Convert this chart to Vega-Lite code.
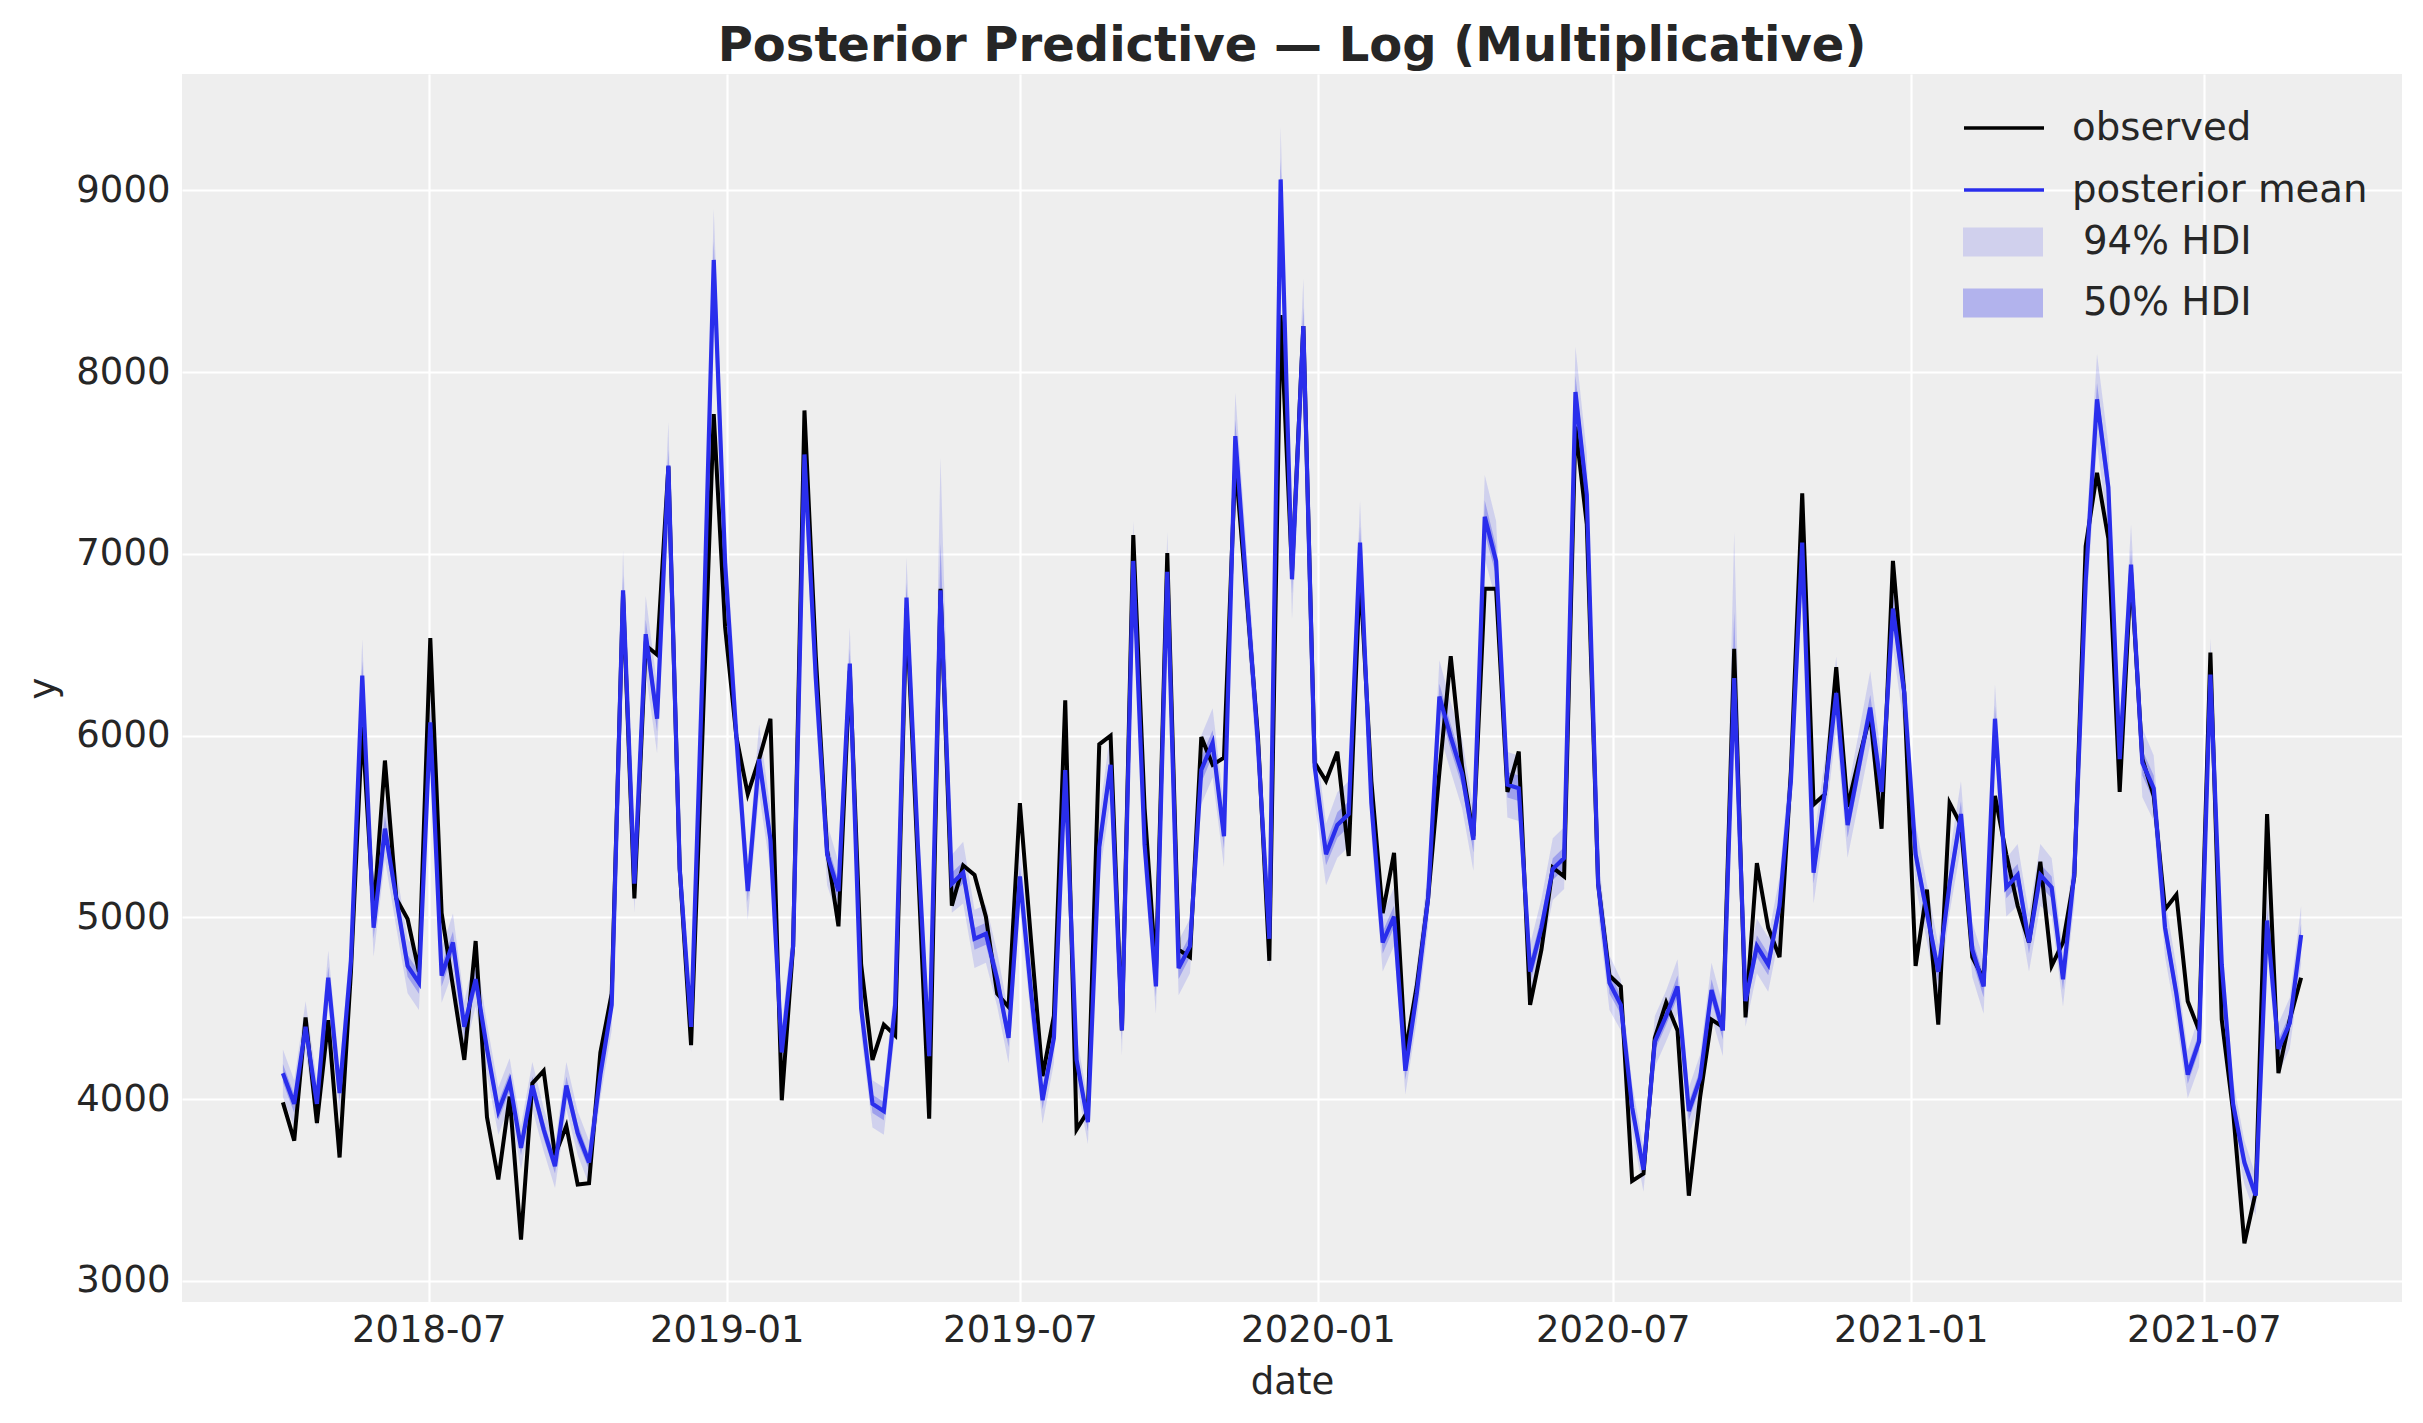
{
  "$schema": "https://vega.github.io/schema/vega-lite/v6.json",
  "autosize": {"type": "none"},
  "padding": {"left": 182, "top": 74, "right": 21, "bottom": 121},
  "width": 2220,
  "height": 1228,
  "background": "white",
  "title": {
    "text": "Posterior Predictive — Log (Multiplicative)",
    "font": "DejaVu Sans",
    "fontSize": 48,
    "fontWeight": "bold",
    "color": "#262626",
    "anchor": "middle",
    "baseline": "alphabetic",
    "offset": -35
  },
  "config": {
    "view": {"fill": "#eeeeee", "stroke": null},
    "axis": {
      "grid": true,
      "gridColor": "#ffffff",
      "gridWidth": 2.2,
      "domain": false,
      "ticks": false,
      "tickSize": 0,
      "labelFont": "DejaVu Sans",
      "labelFontSize": 37,
      "labelColor": "#262626",
      "titleFont": "DejaVu Sans",
      "titleFontSize": 37,
      "titleFontWeight": "normal",
      "titleColor": "#262626"
    },
    "legend": {
      "labelFont": "DejaVu Sans",
      "labelFontSize": 38.7,
      "labelColor": "#262626",
      "labelOffset": 26,
      "labelLimit": 800,
      "rowPadding": -23,
      "symbolSize": 6400
    }
  },
  "data": {
    "values": [
      {"d": "2018-04-02T00:00", "obs": 3982, "mean": 4143, "l94": 4013, "h94": 4273, "l50": 4093, "h50": 4193},
      {"d": "2018-04-09T00:00", "obs": 3772, "mean": 3974, "l94": 3844, "h94": 4104, "l50": 3924, "h50": 4024},
      {"d": "2018-04-16T00:00", "obs": 4450, "mean": 4398, "l94": 4258, "h94": 4538, "l50": 4348, "h50": 4448},
      {"d": "2018-04-23T00:00", "obs": 3869, "mean": 3974, "l94": 3844, "h94": 4104, "l50": 3924, "h50": 4024},
      {"d": "2018-04-30T00:00", "obs": 4434, "mean": 4668, "l94": 4518, "h94": 4818, "l50": 4608, "h50": 4728},
      {"d": "2018-05-07T00:00", "obs": 3679, "mean": 4034, "l94": 3904, "h94": 4164, "l50": 3984, "h50": 4084},
      {"d": "2018-05-14T00:00", "obs": 4700, "mean": 4761, "l94": 4611, "h94": 4911, "l50": 4701, "h50": 4821},
      {"d": "2018-05-21T00:00", "obs": 6050, "mean": 6330, "l94": 6130, "h94": 6530, "l50": 6250, "h50": 6410},
      {"d": "2018-05-28T00:00", "obs": 5024, "mean": 4943, "l94": 4783, "h94": 5103, "l50": 4883, "h50": 5003},
      {"d": "2018-06-04T00:00", "obs": 5863, "mean": 5488, "l94": 5318, "h94": 5658, "l50": 5418, "h50": 5558},
      {"d": "2018-06-11T00:00", "obs": 5104, "mean": 5104, "l94": 4944, "h94": 5264, "l50": 5044, "h50": 5164},
      {"d": "2018-06-18T00:00", "obs": 4991, "mean": 4733, "l94": 4583, "h94": 4883, "l50": 4673, "h50": 4793},
      {"d": "2018-06-25T00:00", "obs": 4700, "mean": 4640, "l94": 4490, "h94": 4790, "l50": 4580, "h50": 4700},
      {"d": "2018-07-02T00:00", "obs": 6537, "mean": 6073, "l94": 5883, "h94": 6263, "l50": 6003, "h50": 6143},
      {"d": "2018-07-09T00:00", "obs": 5024, "mean": 4680, "l94": 4530, "h94": 4830, "l50": 4620, "h50": 4740},
      {"d": "2018-07-16T00:00", "obs": 4620, "mean": 4862, "l94": 4702, "h94": 5022, "l50": 4802, "h50": 4922},
      {"d": "2018-07-23T00:00", "obs": 4216, "mean": 4398, "l94": 4258, "h94": 4538, "l50": 4348, "h50": 4448},
      {"d": "2018-07-30T00:00", "obs": 4870, "mean": 4660, "l94": 4510, "h94": 4810, "l50": 4600, "h50": 4720},
      {"d": "2018-08-06T00:00", "obs": 3901, "mean": 4277, "l94": 4137, "h94": 4417, "l50": 4227, "h50": 4327},
      {"d": "2018-08-13T00:00", "obs": 3558, "mean": 3934, "l94": 3804, "h94": 4064, "l50": 3884, "h50": 3984},
      {"d": "2018-08-20T00:00", "obs": 4014, "mean": 4095, "l94": 3965, "h94": 4225, "l50": 4045, "h50": 4145},
      {"d": "2018-08-27T00:00", "obs": 3227, "mean": 3732, "l94": 3612, "h94": 3852, "l50": 3692, "h50": 3772},
      {"d": "2018-09-03T00:00", "obs": 4087, "mean": 4075, "l94": 3945, "h94": 4205, "l50": 4025, "h50": 4125},
      {"d": "2018-09-10T00:00", "obs": 4156, "mean": 3833, "l94": 3713, "h94": 3953, "l50": 3783, "h50": 3883},
      {"d": "2018-09-17T00:00", "obs": 3691, "mean": 3631, "l94": 3511, "h94": 3751, "l50": 3591, "h50": 3671},
      {"d": "2018-09-24T00:00", "obs": 3853, "mean": 4075, "l94": 3945, "h94": 4205, "l50": 4025, "h50": 4125},
      {"d": "2018-10-01T00:00", "obs": 3530, "mean": 3813, "l94": 3693, "h94": 3933, "l50": 3763, "h50": 3863},
      {"d": "2018-10-08T00:00", "obs": 3538, "mean": 3651, "l94": 3531, "h94": 3771, "l50": 3611, "h50": 3691},
      {"d": "2018-10-15T00:00", "obs": 4256, "mean": 4135, "l94": 4005, "h94": 4265, "l50": 4085, "h50": 4185},
      {"d": "2018-10-22T00:00", "obs": 4580, "mean": 4519, "l94": 4379, "h94": 4659, "l50": 4469, "h50": 4569},
      {"d": "2018-10-29T00:00", "obs": 6780, "mean": 6800, "l94": 6580, "h94": 7020, "l50": 6720, "h50": 6880},
      {"d": "2018-11-05T00:00", "obs": 5104, "mean": 5185, "l94": 5025, "h94": 5345, "l50": 5125, "h50": 5245},
      {"d": "2018-11-12T00:00", "obs": 6497, "mean": 6558, "l94": 6348, "h94": 6768, "l50": 6478, "h50": 6638},
      {"d": "2018-11-19T00:00", "obs": 6445, "mean": 6093, "l94": 5903, "h94": 6283, "l50": 6023, "h50": 6163},
      {"d": "2018-11-26T00:00", "obs": 7480, "mean": 7486, "l94": 7246, "h94": 7726, "l50": 7396, "h50": 7576},
      {"d": "2018-12-03T00:00", "obs": 5266, "mean": 5266, "l94": 5096, "h94": 5436, "l50": 5206, "h50": 5326},
      {"d": "2018-12-10T00:00", "obs": 4297, "mean": 4398, "l94": 4258, "h94": 4538, "l50": 4348, "h50": 4448},
      {"d": "2018-12-17T00:00", "obs": 6000, "mean": 6350, "l94": 6150, "h94": 6550, "l50": 6270, "h50": 6430},
      {"d": "2018-12-24T00:00", "obs": 7769, "mean": 8617, "l94": 8337, "h94": 8897, "l50": 8517, "h50": 8717},
      {"d": "2018-12-31T00:00", "obs": 6598, "mean": 6950, "l94": 6730, "h94": 7170, "l50": 6870, "h50": 7030},
      {"d": "2019-01-07T00:00", "obs": 5992, "mean": 5990, "l94": 5800, "h94": 6180, "l50": 5920, "h50": 6060},
      {"d": "2019-01-14T00:00", "obs": 5678, "mean": 5145, "l94": 4985, "h94": 5305, "l50": 5085, "h50": 5205},
      {"d": "2019-01-21T00:00", "obs": 5871, "mean": 5871, "l94": 5681, "h94": 6061, "l50": 5801, "h50": 5941},
      {"d": "2019-01-28T00:00", "obs": 6093, "mean": 5427, "l94": 5257, "h94": 5597, "l50": 5357, "h50": 5497},
      {"d": "2019-02-04T00:00", "obs": 3994, "mean": 4257, "l94": 4117, "h94": 4397, "l50": 4207, "h50": 4307},
      {"d": "2019-02-11T00:00", "obs": 4842, "mean": 4842, "l94": 4692, "h94": 4992, "l50": 4782, "h50": 4902},
      {"d": "2019-02-18T00:00", "obs": 7789, "mean": 7547, "l94": 7307, "h94": 7787, "l50": 7457, "h50": 7637},
      {"d": "2019-02-25T00:00", "obs": 6437, "mean": 6316, "l94": 6116, "h94": 6516, "l50": 6236, "h50": 6396},
      {"d": "2019-03-04T00:00", "obs": 5367, "mean": 5347, "l94": 5177, "h94": 5517, "l50": 5287, "h50": 5407},
      {"d": "2019-03-11T00:00", "obs": 4951, "mean": 5145, "l94": 4985, "h94": 5305, "l50": 5085, "h50": 5205},
      {"d": "2019-03-18T00:00", "obs": 6356, "mean": 6396, "l94": 6196, "h94": 6596, "l50": 6316, "h50": 6476},
      {"d": "2019-03-25T00:00", "obs": 4741, "mean": 4499, "l94": 4359, "h94": 4639, "l50": 4449, "h50": 4549},
      {"d": "2019-04-01T00:00", "obs": 4216, "mean": 3974, "l94": 3844, "h94": 4104, "l50": 3924, "h50": 4024},
      {"d": "2019-04-08T00:00", "obs": 4410, "mean": 3934, "l94": 3804, "h94": 4064, "l50": 3884, "h50": 3984},
      {"d": "2019-04-15T00:00", "obs": 4350, "mean": 4519, "l94": 4379, "h94": 4659, "l50": 4469, "h50": 4569},
      {"d": "2019-04-22T00:00", "obs": 6700, "mean": 6760, "l94": 6540, "h94": 6980, "l50": 6680, "h50": 6840},
      {"d": "2019-04-29T00:00", "obs": 5300, "mean": 5400, "l94": 5230, "h94": 5570, "l50": 5330, "h50": 5470},
      {"d": "2019-05-06T00:00", "obs": 3893, "mean": 4236, "l94": 4096, "h94": 4376, "l50": 4186, "h50": 4286},
      {"d": "2019-05-13T00:00", "obs": 6808, "mean": 6800, "l94": 6620, "h94": 7530, "l50": 6740, "h50": 7060},
      {"d": "2019-05-20T00:00", "obs": 5064, "mean": 5185, "l94": 5025, "h94": 5345, "l50": 5125, "h50": 5245},
      {"d": "2019-05-27T00:00", "obs": 5286, "mean": 5246, "l94": 5076, "h94": 5416, "l50": 5186, "h50": 5306},
      {"d": "2019-06-03T00:00", "obs": 5234, "mean": 4882, "l94": 4722, "h94": 5042, "l50": 4822, "h50": 4942},
      {"d": "2019-06-10T00:00", "obs": 5004, "mean": 4910, "l94": 4750, "h94": 5070, "l50": 4850, "h50": 4970},
      {"d": "2019-06-17T00:00", "obs": 4580, "mean": 4660, "l94": 4510, "h94": 4810, "l50": 4600, "h50": 4720},
      {"d": "2019-06-24T00:00", "obs": 4507, "mean": 4337, "l94": 4197, "h94": 4477, "l50": 4287, "h50": 4387},
      {"d": "2019-07-01T00:00", "obs": 5629, "mean": 5225, "l94": 5055, "h94": 5395, "l50": 5165, "h50": 5285},
      {"d": "2019-07-08T00:00", "obs": 4862, "mean": 4580, "l94": 4430, "h94": 4730, "l50": 4520, "h50": 4640},
      {"d": "2019-07-15T00:00", "obs": 4127, "mean": 3994, "l94": 3864, "h94": 4124, "l50": 3944, "h50": 4044},
      {"d": "2019-07-22T00:00", "obs": 4458, "mean": 4337, "l94": 4197, "h94": 4477, "l50": 4287, "h50": 4387},
      {"d": "2019-07-29T00:00", "obs": 6194, "mean": 5811, "l94": 5621, "h94": 6001, "l50": 5741, "h50": 5881},
      {"d": "2019-08-05T00:00", "obs": 3833, "mean": 4216, "l94": 4086, "h94": 4346, "l50": 4166, "h50": 4266},
      {"d": "2019-08-12T00:00", "obs": 3934, "mean": 3873, "l94": 3753, "h94": 3993, "l50": 3823, "h50": 3923},
      {"d": "2019-08-19T00:00", "obs": 5952, "mean": 5387, "l94": 5217, "h94": 5557, "l50": 5317, "h50": 5457},
      {"d": "2019-08-26T00:00", "obs": 6000, "mean": 5839, "l94": 5649, "h94": 6029, "l50": 5769, "h50": 5909},
      {"d": "2019-09-02T00:00", "obs": 4378, "mean": 4378, "l94": 4238, "h94": 4518, "l50": 4328, "h50": 4428},
      {"d": "2019-09-09T00:00", "obs": 7103, "mean": 6961, "l94": 6741, "h94": 7181, "l50": 6881, "h50": 7041},
      {"d": "2019-09-16T00:00", "obs": 5600, "mean": 5400, "l94": 5230, "h94": 5570, "l50": 5330, "h50": 5470},
      {"d": "2019-09-23T00:00", "obs": 4700, "mean": 4620, "l94": 4470, "h94": 4770, "l50": 4560, "h50": 4680},
      {"d": "2019-09-30T00:00", "obs": 7004, "mean": 6901, "l94": 6681, "h94": 7121, "l50": 6821, "h50": 6981},
      {"d": "2019-10-07T00:00", "obs": 4822, "mean": 4721, "l94": 4571, "h94": 4871, "l50": 4661, "h50": 4781},
      {"d": "2019-10-14T00:00", "obs": 4781, "mean": 4842, "l94": 4692, "h94": 4992, "l50": 4782, "h50": 4902},
      {"d": "2019-10-21T00:00", "obs": 5992, "mean": 5811, "l94": 5621, "h94": 6001, "l50": 5741, "h50": 5881},
      {"d": "2019-10-28T00:00", "obs": 5839, "mean": 5960, "l94": 5770, "h94": 6150, "l50": 5890, "h50": 6030},
      {"d": "2019-11-04T00:00", "obs": 5879, "mean": 5447, "l94": 5277, "h94": 5617, "l50": 5377, "h50": 5517},
      {"d": "2019-11-11T00:00", "obs": 7500, "mean": 7648, "l94": 7408, "h94": 7888, "l50": 7558, "h50": 7738},
      {"d": "2019-11-18T00:00", "obs": 6760, "mean": 6800, "l94": 6580, "h94": 7020, "l50": 6720, "h50": 6880},
      {"d": "2019-11-25T00:00", "obs": 5992, "mean": 5952, "l94": 5762, "h94": 6142, "l50": 5882, "h50": 6022},
      {"d": "2019-12-02T00:00", "obs": 4761, "mean": 4882, "l94": 4722, "h94": 5042, "l50": 4822, "h50": 4942},
      {"d": "2019-12-09T00:00", "obs": 8314, "mean": 9060, "l94": 8770, "h94": 9350, "l50": 8950, "h50": 9170},
      {"d": "2019-12-16T00:00", "obs": 6900, "mean": 6860, "l94": 6640, "h94": 7080, "l50": 6780, "h50": 6940},
      {"d": "2019-12-23T00:00", "obs": 8253, "mean": 8253, "l94": 7993, "h94": 8513, "l50": 8153, "h50": 8353},
      {"d": "2019-12-30T00:00", "obs": 5851, "mean": 5831, "l94": 5641, "h94": 6021, "l50": 5761, "h50": 5901},
      {"d": "2020-01-06T00:00", "obs": 5750, "mean": 5347, "l94": 5177, "h94": 5517, "l50": 5287, "h50": 5407},
      {"d": "2020-01-13T00:00", "obs": 5912, "mean": 5508, "l94": 5328, "h94": 5688, "l50": 5438, "h50": 5578},
      {"d": "2020-01-20T00:00", "obs": 5338, "mean": 5569, "l94": 5389, "h94": 5749, "l50": 5499, "h50": 5639},
      {"d": "2020-01-27T00:00", "obs": 6900, "mean": 7062, "l94": 6832, "h94": 7292, "l50": 6972, "h50": 7152},
      {"d": "2020-02-03T00:00", "obs": 5750, "mean": 5629, "l94": 5449, "h94": 5809, "l50": 5559, "h50": 5699},
      {"d": "2020-02-10T00:00", "obs": 5024, "mean": 4862, "l94": 4702, "h94": 5022, "l50": 4802, "h50": 4922},
      {"d": "2020-02-17T00:00", "obs": 5355, "mean": 5004, "l94": 4844, "h94": 5164, "l50": 4944, "h50": 5064},
      {"d": "2020-02-24T00:00", "obs": 4257, "mean": 4156, "l94": 4026, "h94": 4286, "l50": 4106, "h50": 4206},
      {"d": "2020-03-02T00:00", "obs": 4620, "mean": 4580, "l94": 4430, "h94": 4730, "l50": 4520, "h50": 4640},
      {"d": "2020-03-09T00:00", "obs": 5104, "mean": 5104, "l94": 4944, "h94": 5264, "l50": 5044, "h50": 5164},
      {"d": "2020-03-16T00:00", "obs": 5800, "mean": 6215, "l94": 6015, "h94": 6415, "l50": 6145, "h50": 6285},
      {"d": "2020-03-23T00:00", "obs": 6437, "mean": 5992, "l94": 5802, "h94": 6182, "l50": 5922, "h50": 6062},
      {"d": "2020-03-30T00:00", "obs": 5831, "mean": 5791, "l94": 5601, "h94": 5981, "l50": 5721, "h50": 5861},
      {"d": "2020-04-06T00:00", "obs": 5447, "mean": 5427, "l94": 5257, "h94": 5597, "l50": 5357, "h50": 5497},
      {"d": "2020-04-13T00:00", "obs": 6808, "mean": 7204, "l94": 6974, "h94": 7434, "l50": 7114, "h50": 7294},
      {"d": "2020-04-20T00:00", "obs": 6808, "mean": 6961, "l94": 6741, "h94": 7181, "l50": 6881, "h50": 7041},
      {"d": "2020-04-27T00:00", "obs": 5690, "mean": 5730, "l94": 5550, "h94": 5910, "l50": 5660, "h50": 5800},
      {"d": "2020-05-04T00:00", "obs": 5912, "mean": 5710, "l94": 5530, "h94": 5890, "l50": 5640, "h50": 5780},
      {"d": "2020-05-11T00:00", "obs": 4519, "mean": 4701, "l94": 4551, "h94": 4851, "l50": 4641, "h50": 4761},
      {"d": "2020-05-18T00:00", "obs": 4822, "mean": 4943, "l94": 4783, "h94": 5103, "l50": 4883, "h50": 5003},
      {"d": "2020-05-25T00:00", "obs": 5274, "mean": 5266, "l94": 5096, "h94": 5436, "l50": 5206, "h50": 5326},
      {"d": "2020-06-01T00:00", "obs": 5225, "mean": 5326, "l94": 5156, "h94": 5496, "l50": 5266, "h50": 5386},
      {"d": "2020-06-08T00:00", "obs": 7700, "mean": 7890, "l94": 7640, "h94": 8140, "l50": 7800, "h50": 7980},
      {"d": "2020-06-15T00:00", "obs": 7163, "mean": 7325, "l94": 7095, "h94": 7555, "l50": 7235, "h50": 7415},
      {"d": "2020-06-22T00:00", "obs": 5185, "mean": 5185, "l94": 5025, "h94": 5345, "l50": 5125, "h50": 5245},
      {"d": "2020-06-29T00:00", "obs": 4680, "mean": 4640, "l94": 4490, "h94": 4790, "l50": 4580, "h50": 4700},
      {"d": "2020-07-06T00:00", "obs": 4620, "mean": 4519, "l94": 4379, "h94": 4659, "l50": 4469, "h50": 4569},
      {"d": "2020-07-13T00:00", "obs": 3550, "mean": 3954, "l94": 3824, "h94": 4084, "l50": 3904, "h50": 4004},
      {"d": "2020-07-20T00:00", "obs": 3590, "mean": 3611, "l94": 3491, "h94": 3731, "l50": 3571, "h50": 3651},
      {"d": "2020-07-27T00:00", "obs": 4337, "mean": 4317, "l94": 4177, "h94": 4457, "l50": 4267, "h50": 4367},
      {"d": "2020-08-03T00:00", "obs": 4531, "mean": 4458, "l94": 4318, "h94": 4598, "l50": 4408, "h50": 4508},
      {"d": "2020-08-10T00:00", "obs": 4378, "mean": 4620, "l94": 4470, "h94": 4770, "l50": 4560, "h50": 4680},
      {"d": "2020-08-17T00:00", "obs": 3469, "mean": 3934, "l94": 3804, "h94": 4064, "l50": 3884, "h50": 3984},
      {"d": "2020-08-24T00:00", "obs": 4014, "mean": 4115, "l94": 3985, "h94": 4245, "l50": 4065, "h50": 4165},
      {"d": "2020-08-31T00:00", "obs": 4438, "mean": 4600, "l94": 4450, "h94": 4750, "l50": 4540, "h50": 4660},
      {"d": "2020-09-07T00:00", "obs": 4398, "mean": 4378, "l94": 4238, "h94": 4518, "l50": 4328, "h50": 4428},
      {"d": "2020-09-14T00:00", "obs": 6477, "mean": 6316, "l94": 6140, "h94": 7120, "l50": 6250, "h50": 6680},
      {"d": "2020-09-21T00:00", "obs": 4450, "mean": 4539, "l94": 4399, "h94": 4679, "l50": 4489, "h50": 4589},
      {"d": "2020-09-28T00:00", "obs": 5298, "mean": 4842, "l94": 4692, "h94": 4992, "l50": 4782, "h50": 4902},
      {"d": "2020-10-05T00:00", "obs": 4943, "mean": 4741, "l94": 4591, "h94": 4891, "l50": 4681, "h50": 4801},
      {"d": "2020-10-12T00:00", "obs": 4781, "mean": 5064, "l94": 4904, "h94": 5224, "l50": 5004, "h50": 5124},
      {"d": "2020-10-19T00:00", "obs": 5800, "mean": 5750, "l94": 5570, "h94": 5930, "l50": 5680, "h50": 5820},
      {"d": "2020-10-26T00:00", "obs": 7333, "mean": 7062, "l94": 6832, "h94": 7292, "l50": 6972, "h50": 7152},
      {"d": "2020-11-02T00:00", "obs": 5621, "mean": 5246, "l94": 5076, "h94": 5416, "l50": 5186, "h50": 5306},
      {"d": "2020-11-09T00:00", "obs": 5678, "mean": 5690, "l94": 5510, "h94": 5870, "l50": 5620, "h50": 5760},
      {"d": "2020-11-16T00:00", "obs": 6376, "mean": 6235, "l94": 6035, "h94": 6435, "l50": 6165, "h50": 6305},
      {"d": "2020-11-23T00:00", "obs": 5609, "mean": 5508, "l94": 5328, "h94": 5688, "l50": 5438, "h50": 5578},
      {"d": "2020-11-30T00:00", "obs": 5871, "mean": 5831, "l94": 5641, "h94": 6021, "l50": 5761, "h50": 5901},
      {"d": "2020-12-07T00:00", "obs": 6113, "mean": 6154, "l94": 5954, "h94": 6354, "l50": 6084, "h50": 6224},
      {"d": "2020-12-14T00:00", "obs": 5488, "mean": 5690, "l94": 5510, "h94": 5870, "l50": 5620, "h50": 5760},
      {"d": "2020-12-21T00:00", "obs": 6961, "mean": 6699, "l94": 6489, "h94": 6909, "l50": 6619, "h50": 6779},
      {"d": "2020-12-28T00:00", "obs": 6235, "mean": 6235, "l94": 6035, "h94": 6435, "l50": 6165, "h50": 6305},
      {"d": "2021-01-04T00:00", "obs": 4733, "mean": 5347, "l94": 5177, "h94": 5517, "l50": 5287, "h50": 5407},
      {"d": "2021-01-11T00:00", "obs": 5153, "mean": 5024, "l94": 4864, "h94": 5184, "l50": 4964, "h50": 5084},
      {"d": "2021-01-18T00:00", "obs": 4410, "mean": 4701, "l94": 4551, "h94": 4851, "l50": 4641, "h50": 4761},
      {"d": "2021-01-25T00:00", "obs": 5629, "mean": 5185, "l94": 5025, "h94": 5345, "l50": 5125, "h50": 5245},
      {"d": "2021-02-01T00:00", "obs": 5508, "mean": 5569, "l94": 5389, "h94": 5749, "l50": 5499, "h50": 5639},
      {"d": "2021-02-08T00:00", "obs": 4781, "mean": 4822, "l94": 4672, "h94": 4972, "l50": 4762, "h50": 4882},
      {"d": "2021-02-15T00:00", "obs": 4660, "mean": 4620, "l94": 4470, "h94": 4770, "l50": 4560, "h50": 4680},
      {"d": "2021-02-22T00:00", "obs": 5669, "mean": 6093, "l94": 5903, "h94": 6283, "l50": 6023, "h50": 6163},
      {"d": "2021-03-01T00:00", "obs": 5347, "mean": 5165, "l94": 5005, "h94": 5325, "l50": 5105, "h50": 5225},
      {"d": "2021-03-08T00:00", "obs": 5064, "mean": 5234, "l94": 5064, "h94": 5404, "l50": 5174, "h50": 5294},
      {"d": "2021-03-15T00:00", "obs": 4862, "mean": 4862, "l94": 4702, "h94": 5022, "l50": 4802, "h50": 4922},
      {"d": "2021-03-22T00:00", "obs": 5306, "mean": 5234, "l94": 5064, "h94": 5404, "l50": 5174, "h50": 5294},
      {"d": "2021-03-29T00:00", "obs": 4733, "mean": 5165, "l94": 5005, "h94": 5325, "l50": 5105, "h50": 5225},
      {"d": "2021-04-05T00:00", "obs": 4862, "mean": 4660, "l94": 4510, "h94": 4810, "l50": 4600, "h50": 4720},
      {"d": "2021-04-12T00:00", "obs": 5225, "mean": 5246, "l94": 5076, "h94": 5416, "l50": 5186, "h50": 5306},
      {"d": "2021-04-19T00:00", "obs": 7042, "mean": 6850, "l94": 6630, "h94": 7070, "l50": 6770, "h50": 6930},
      {"d": "2021-04-26T00:00", "obs": 7446, "mean": 7850, "l94": 7600, "h94": 8100, "l50": 7760, "h50": 7940},
      {"d": "2021-05-03T00:00", "obs": 7083, "mean": 7365, "l94": 7125, "h94": 7605, "l50": 7275, "h50": 7455},
      {"d": "2021-05-10T00:00", "obs": 5690, "mean": 5871, "l94": 5681, "h94": 6061, "l50": 5801, "h50": 5941},
      {"d": "2021-05-17T00:00", "obs": 6900, "mean": 6941, "l94": 6721, "h94": 7161, "l50": 6861, "h50": 7021},
      {"d": "2021-05-24T00:00", "obs": 5871, "mean": 5851, "l94": 5661, "h94": 6041, "l50": 5781, "h50": 5921},
      {"d": "2021-05-31T00:00", "obs": 5669, "mean": 5710, "l94": 5530, "h94": 5890, "l50": 5640, "h50": 5780},
      {"d": "2021-06-07T00:00", "obs": 5044, "mean": 4943, "l94": 4783, "h94": 5103, "l50": 4883, "h50": 5003},
      {"d": "2021-06-14T00:00", "obs": 5125, "mean": 4580, "l94": 4430, "h94": 4730, "l50": 4520, "h50": 4640},
      {"d": "2021-06-21T00:00", "obs": 4539, "mean": 4135, "l94": 4005, "h94": 4265, "l50": 4085, "h50": 4185},
      {"d": "2021-06-28T00:00", "obs": 4378, "mean": 4317, "l94": 4177, "h94": 4457, "l50": 4267, "h50": 4367},
      {"d": "2021-07-05T00:00", "obs": 6457, "mean": 6336, "l94": 6136, "h94": 6536, "l50": 6256, "h50": 6416},
      {"d": "2021-07-12T00:00", "obs": 4438, "mean": 4741, "l94": 4591, "h94": 4891, "l50": 4681, "h50": 4801},
      {"d": "2021-07-19T00:00", "obs": 3934, "mean": 3974, "l94": 3844, "h94": 4104, "l50": 3924, "h50": 4024},
      {"d": "2021-07-26T00:00", "obs": 3207, "mean": 3651, "l94": 3531, "h94": 3771, "l50": 3611, "h50": 3691},
      {"d": "2021-08-02T00:00", "obs": 3490, "mean": 3469, "l94": 3359, "h94": 3579, "l50": 3429, "h50": 3509},
      {"d": "2021-08-09T00:00", "obs": 5569, "mean": 4983, "l94": 4823, "h94": 5143, "l50": 4923, "h50": 5043},
      {"d": "2021-08-16T00:00", "obs": 4143, "mean": 4277, "l94": 4137, "h94": 4417, "l50": 4227, "h50": 4327},
      {"d": "2021-08-23T00:00", "obs": 4438, "mean": 4418, "l94": 4278, "h94": 4558, "l50": 4368, "h50": 4468},
      {"d": "2021-08-30T00:00", "obs": 4668, "mean": 4903, "l94": 4743, "h94": 5063, "l50": 4843, "h50": 4963}
    ]
  },
  "encoding": {
    "x": {
      "field": "d",
      "type": "temporal",
      "title": "date",
      "scale": {
        "domain": [
          {"year": 2018, "month": 1, "date": 29, "hours": 17},
          {"year": 2021, "month": 10, "date": 31, "hours": 7}
        ],
        "nice": false
      },
      "axis": {
        "values": [
          {"year": 2018, "month": 7, "date": 1},
          {"year": 2019, "month": 1, "date": 1},
          {"year": 2019, "month": 7, "date": 1},
          {"year": 2020, "month": 1, "date": 1},
          {"year": 2020, "month": 7, "date": 1},
          {"year": 2021, "month": 1, "date": 1},
          {"year": 2021, "month": 7, "date": 1}
        ],
        "format": "%Y-%m",
        "labelPadding": 10,
        "labelFlush": false,
        "labelOverlap": false,
        "titlePadding": 16
      }
    }
  },
  "layer": [
    {
      "mark": {"type": "area", "interpolate": "linear"},
      "encoding": {
        "y": {
          "field": "l94",
          "type": "quantitative",
          "title": "y",
          "scale": {"domain": [2884, 9640], "nice": false, "zero": false},
          "axis": {
            "values": [3000, 4000, 5000, 6000, 7000, 8000, 9000],
            "format": "d",
            "labelPadding": 12,
            "titlePadding": 13
          }
        },
        "y2": {"field": "h94"},
        "fill": {
          "datum": "94% HDI",
          "type": "nominal",
          "scale": {"domain": ["94% HDI", "50% HDI"], "range": ["#2a2eec", "#2a2eec"]},
          "legend": {
            "title": null,
            "orient": "none",
            "legendX": 1780,
            "legendY": 127,
            "labelOffset": 39,
            "symbolType": "M-1,-0.36H1V0.36H-1Z",
            "symbolStrokeColor": "#2a2eec",
            "symbolStrokeWidth": 2
          }
        },
        "opacity": {
          "datum": "94% HDI",
          "type": "nominal",
          "scale": {"domain": ["94% HDI", "50% HDI"], "range": [0.15, 0.3]}
        }
      }
    },
    {
      "mark": {"type": "area", "interpolate": "linear"},
      "encoding": {
        "y": {"field": "l50", "type": "quantitative"},
        "y2": {"field": "h50"},
        "fill": {"datum": "50% HDI", "type": "nominal"},
        "opacity": {"datum": "50% HDI", "type": "nominal"}
      }
    },
    {
      "mark": {"type": "line", "strokeWidth": 4, "interpolate": "linear"},
      "encoding": {
        "y": {"field": "obs", "type": "quantitative"},
        "stroke": {
          "datum": "observed",
          "type": "nominal",
          "scale": {"domain": ["observed", "posterior mean"], "range": ["#000000", "#2a2eec"]},
          "legend": {
            "title": null,
            "orient": "none",
            "legendX": 1780,
            "legendY": 12,
            "symbolType": "stroke",
            "symbolStrokeWidth": 3.4
          }
        }
      }
    },
    {
      "mark": {"type": "line", "strokeWidth": 4.2, "interpolate": "linear"},
      "encoding": {
        "y": {"field": "mean", "type": "quantitative"},
        "stroke": {"datum": "posterior mean", "type": "nominal"}
      }
    }
  ]
}
